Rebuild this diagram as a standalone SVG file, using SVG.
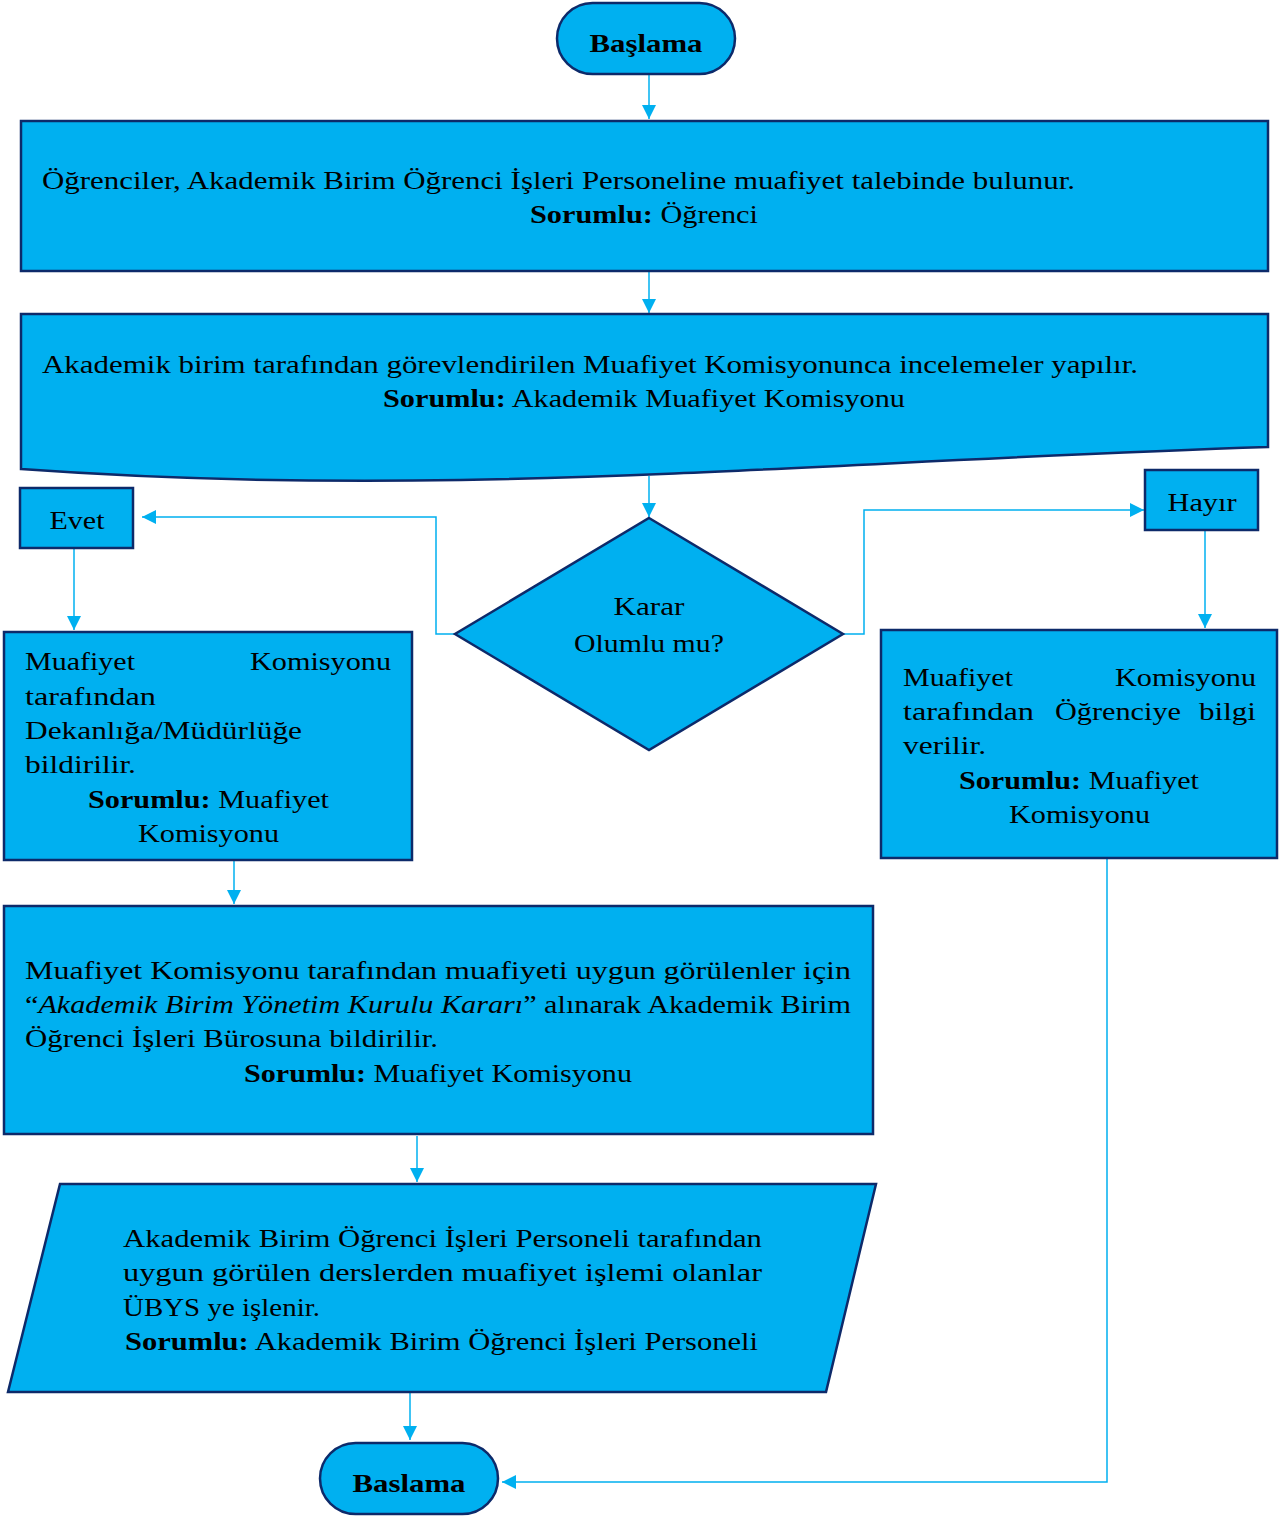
<svg xmlns="http://www.w3.org/2000/svg" width="1282" height="1517" viewBox="0 0 1282 1517">
<style>
.n{fill:#00B0F0;stroke:#0D2A6A;stroke-width:2.5}
.t{font-family:"Liberation Serif","Times New Roman",serif;font-size:26px;fill:#000}
.b{font-weight:bold}
.i{font-style:italic}
.c{text-anchor:middle}
.e{text-anchor:end}
.k{fill:none;stroke:#00B0F0;stroke-width:1.5}
</style>
<defs>
<marker id="ah" markerUnits="userSpaceOnUse" markerWidth="14" markerHeight="14" refX="14" refY="7" orient="auto">
<path d="M0,0 L14,7 L0,14 Z" fill="#00B0F0"/>
</marker>
</defs>
<rect width="1282" height="1517" fill="#fff"/>
<g id="connectors">
<path class="k" d="M649,75 V119" marker-end="url(#ah)"/>
<path class="k" d="M649,272 V313" marker-end="url(#ah)"/>
<path class="k" d="M649,476 V517" marker-end="url(#ah)"/>
<path class="k" d="M455,634 H436 V517 H142" marker-end="url(#ah)"/>
<path class="k" d="M843,634 H864 V510 H1144" marker-end="url(#ah)"/>
<path class="k" d="M74,549 V630" marker-end="url(#ah)"/>
<path class="k" d="M1205,531 V628" marker-end="url(#ah)"/>
<path class="k" d="M234,861 V904" marker-end="url(#ah)"/>
<path class="k" d="M417,1136 V1182" marker-end="url(#ah)"/>
<path class="k" d="M410,1393 V1440" marker-end="url(#ah)"/>
<path class="k" d="M1107,859 V1482 H502" marker-end="url(#ah)"/>
</g>
<g id="start">
<rect class="n" x="557" y="3" width="178" height="71" rx="35.5"/>
<text class="t b c" x="646" y="52" textLength="113" lengthAdjust="spacingAndGlyphs">Başlama</text>
</g>
<g id="step1">
<rect class="n" x="21" y="121" width="1247" height="150"/>
<text class="t" x="42" y="189" textLength="1033" lengthAdjust="spacingAndGlyphs">Öğrenciler, Akademik Birim Öğrenci İşleri Personeline muafiyet talebinde bulunur.</text>
<text class="t" x="530" y="223" textLength="228" lengthAdjust="spacingAndGlyphs"><tspan class="b">Sorumlu:</tspan> Öğrenci</text>
</g>
<g id="step2">
<path class="n" d="M21,314 H1268 V447 C800,462 450,500 21,469 Z"/>
<text class="t" x="42" y="373" textLength="1096" lengthAdjust="spacingAndGlyphs">Akademik birim tarafından görevlendirilen Muafiyet Komisyonunca incelemeler yapılır.</text>
<text class="t" x="383" y="407" textLength="522" lengthAdjust="spacingAndGlyphs"><tspan class="b">Sorumlu:</tspan> Akademik Muafiyet Komisyonu</text>
</g>
<g id="decision">
<path class="n" d="M649,518 L843,634 L649,750 L455,634 Z"/>
<text class="t c" x="649" y="615" textLength="71" lengthAdjust="spacingAndGlyphs">Karar</text>
<text class="t c" x="649" y="652" textLength="150" lengthAdjust="spacingAndGlyphs">Olumlu mu?</text>
</g>
<g id="evet">
<rect class="n" x="20" y="488" width="113" height="60"/>
<text class="t c" x="77" y="529" textLength="55" lengthAdjust="spacingAndGlyphs">Evet</text>
</g>
<g id="hayir">
<rect class="n" x="1145" y="470" width="113" height="60"/>
<text class="t c" x="1202" y="511" textLength="69" lengthAdjust="spacingAndGlyphs">Hayır</text>
</g>
<g id="left-box">
<rect class="n" x="4" y="632" width="408" height="228"/>
<text class="t" x="25" y="670" textLength="110" lengthAdjust="spacingAndGlyphs">Muafiyet</text>
<text class="t e" x="391" y="670" textLength="141" lengthAdjust="spacingAndGlyphs">Komisyonu</text>
<text class="t" x="25" y="705" textLength="131" lengthAdjust="spacingAndGlyphs">tarafından</text>
<text class="t" x="25" y="739" textLength="277" lengthAdjust="spacingAndGlyphs">Dekanlığa/Müdürlüğe</text>
<text class="t" x="25" y="773" textLength="111" lengthAdjust="spacingAndGlyphs">bildirilir.</text>
<text class="t" x="88" y="808" textLength="241" lengthAdjust="spacingAndGlyphs"><tspan class="b">Sorumlu:</tspan> Muafiyet</text>
<text class="t" x="138" y="842" textLength="141" lengthAdjust="spacingAndGlyphs">Komisyonu</text>
</g>
<g id="right-box">
<rect class="n" x="881" y="630" width="396" height="228"/>
<text class="t" x="903" y="686" textLength="110" lengthAdjust="spacingAndGlyphs">Muafiyet</text>
<text class="t e" x="1256" y="686" textLength="141" lengthAdjust="spacingAndGlyphs">Komisyonu</text>
<text class="t" x="903" y="720" textLength="131" lengthAdjust="spacingAndGlyphs">tarafından</text>
<text class="t" x="1055" y="720" textLength="126" lengthAdjust="spacingAndGlyphs">Öğrenciye</text>
<text class="t e" x="1256" y="720" textLength="57" lengthAdjust="spacingAndGlyphs">bilgi</text>
<text class="t" x="903" y="754" textLength="83" lengthAdjust="spacingAndGlyphs">verilir.</text>
<text class="t" x="959" y="789" textLength="240" lengthAdjust="spacingAndGlyphs"><tspan class="b">Sorumlu:</tspan> Muafiyet</text>
<text class="t" x="1009" y="823" textLength="141" lengthAdjust="spacingAndGlyphs">Komisyonu</text>
</g>
<g id="step3">
<rect class="n" x="4" y="906" width="869" height="228"/>
<text class="t" x="25" y="979" textLength="826" lengthAdjust="spacingAndGlyphs">Muafiyet Komisyonu tarafından muafiyeti uygun görülenler için</text>
<text class="t" x="25" y="1013" textLength="826" lengthAdjust="spacingAndGlyphs">“<tspan class="i">Akademik Birim Yönetim Kurulu Kararı</tspan>” alınarak Akademik Birim</text>
<text class="t" x="25" y="1047" textLength="413" lengthAdjust="spacingAndGlyphs">Öğrenci İşleri Bürosuna bildirilir.</text>
<text class="t" x="244" y="1082" textLength="388" lengthAdjust="spacingAndGlyphs"><tspan class="b">Sorumlu:</tspan> Muafiyet Komisyonu</text>
</g>
<g id="step4">
<path class="n" d="M60,1184 H876 L826,1392 H8 Z"/>
<text class="t" x="123" y="1247" textLength="639" lengthAdjust="spacingAndGlyphs">Akademik Birim Öğrenci İşleri Personeli tarafından</text>
<text class="t" x="123" y="1281" textLength="639" lengthAdjust="spacingAndGlyphs">uygun görülen derslerden muafiyet işlemi olanlar</text>
<text class="t" x="123" y="1316" textLength="197" lengthAdjust="spacingAndGlyphs">ÜBYS ye işlenir.</text>
<text class="t" x="125" y="1350" textLength="633" lengthAdjust="spacingAndGlyphs"><tspan class="b">Sorumlu:</tspan> Akademik Birim Öğrenci İşleri Personeli</text>
</g>
<g id="end">
<rect class="n" x="320" y="1443" width="178" height="71" rx="35.5"/>
<text class="t b c" x="409" y="1492" textLength="113" lengthAdjust="spacingAndGlyphs">Baslama</text>
</g>
</svg>
